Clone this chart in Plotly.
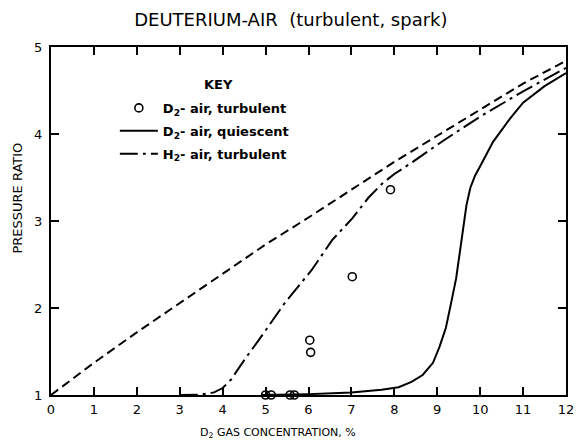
import plotly.graph_objects as go

# Theoretical (dashed) curve
theory_x = [0, 1, 2, 3, 4, 5, 6, 7, 8, 9, 10, 11, 12]
theory_y = [1.0, 1.37, 1.72, 2.06, 2.40, 2.73, 3.04, 3.36, 3.68, 3.98, 4.28, 4.58, 4.84]

# H2-air, turbulent (dash-dot)
h2_x = [3.0, 3.5, 3.8, 4.0, 4.2, 4.5, 4.84, 5.45, 6.08, 6.55, 7.02, 7.4, 7.72, 8.0, 8.43, 9.13, 10.0, 11.0, 12.0]
h2_y = [1.0, 1.005, 1.03, 1.08, 1.18, 1.4, 1.63, 2.06, 2.44, 2.78, 3.03, 3.27, 3.43, 3.54, 3.68, 3.92, 4.2, 4.49, 4.76]

# D2-air, quiescent (solid)
d2q_x = [4.9, 6.0, 7.0, 7.7, 8.1, 8.4, 8.66, 8.9, 9.05, 9.2, 9.32, 9.44, 9.52, 9.6, 9.68, 9.77, 9.88,
         10.0, 10.3, 10.7, 11.0, 11.5, 12.0]
d2q_y = [1.0, 1.01, 1.03, 1.06, 1.09, 1.15, 1.23, 1.37, 1.55, 1.77, 2.05, 2.34, 2.62, 2.92, 3.18, 3.38, 3.52,
         3.63, 3.91, 4.18, 4.36, 4.55, 4.70]

# D2-air, turbulent (open circles)
d2t_x = [5.0, 5.13, 5.57, 5.67, 6.03, 6.05, 7.02, 7.91]
d2t_y = [1.0, 1.0, 1.0, 1.0, 1.63, 1.49, 2.36, 3.36]

x_ticks = [0, 1, 2, 3, 4, 5, 6, 7, 8, 9, 10, 11, 12]
y_ticks = [1, 2, 3, 4, 5]

FONT = "DejaVu Sans"

fig = go.Figure()
fig.add_trace(go.Scatter(x=theory_x, y=theory_y, mode="lines", showlegend=False,
                         line=dict(color="black", width=2, dash="9px,5px")))
fig.add_trace(go.Scatter(x=d2t_x, y=d2t_y, mode="markers", name="D<sub>2</sub>- air, turbulent",
                         cliponaxis=False, legendgroup="a",
                         marker=dict(symbol="circle-open", size=8, color="black", line=dict(width=1.6))))
fig.add_trace(go.Scatter(x=d2q_x, y=d2q_y, mode="lines", name="D<sub>2</sub>- air, quiescent",
                         legendgroup="b", line=dict(color="black", width=2)))
fig.add_trace(go.Scatter(x=h2_x, y=h2_y, mode="lines", name="H<sub>2</sub>- air, turbulent",
                         legendgroup="c", line=dict(color="black", width=2, dash="18px,5px,3px,5px")))

fig.update_layout(
    width=576, height=442,
    margin=dict(l=51, r=10, t=47, b=47, autoexpand=False),
    paper_bgcolor="white", plot_bgcolor="white",
    font=dict(family=FONT, color="black", size=12),
    title=dict(text="DEUTERIUM-AIR  (turbulent, spark)", x=0.505, xanchor="center",
               yref="container", y=0.955, yanchor="middle", font=dict(size=18, family=FONT)),
    legend=dict(x=0.124, y=0.868, xanchor="left", yanchor="top",
                bgcolor="rgba(0,0,0,0)", font=dict(size=13, family=FONT, weight="bold"),
                itemwidth=38, tracegroupgap=3),
    showlegend=True,
)
fig.update_xaxes(range=[0, 12], tickvals=x_ticks, ticktext=[str(v) for v in x_ticks],
                 ticks="inside", ticklen=8, tickwidth=1.5, tickcolor="black",
                 showline=True, linecolor="black", linewidth=2, mirror="ticks",
                 showgrid=False, zeroline=False, tickfont=dict(size=13), automargin=False,
                 ticklabelstandoff=1)
fig.update_yaxes(range=[1, 5], tickvals=y_ticks, ticktext=[str(v) for v in y_ticks],
                 ticks="inside", ticklen=8, tickwidth=1.5, tickcolor="black",
                 showline=True, linecolor="black", linewidth=2, mirror="ticks",
                 showgrid=False, zeroline=False, tickfont=dict(size=13), automargin=False,
                 ticklabelstandoff=4)
fig.add_annotation(text="KEY", xref="paper", yref="paper", x=0.326, y=0.891,
                   xanchor="center", yanchor="middle", showarrow=False,
                   font=dict(size=13, family=FONT, weight="bold"))
fig.add_annotation(text="PRESSURE RATIO", textangle=-90, xref="paper", yref="paper",
                   x=-0.065, y=0.566, xanchor="center", yanchor="middle", showarrow=False,
                   font=dict(size=13, family=FONT))
fig.add_annotation(text="D<sub>2</sub> GAS CONCENTRATION, %", xref="paper", yref="paper",
                   x=0.44, y=-0.11, xanchor="center", yanchor="middle", showarrow=False,
                   font=dict(size=11, family=FONT))

# remove the browser's default 8px body margin so the 576x442 figure fills the window exactly
fig.write_html("out.html", config={"displayModeBar": False},
               post_script="document.body.style.margin='0';document.body.style.overflow='hidden';")
